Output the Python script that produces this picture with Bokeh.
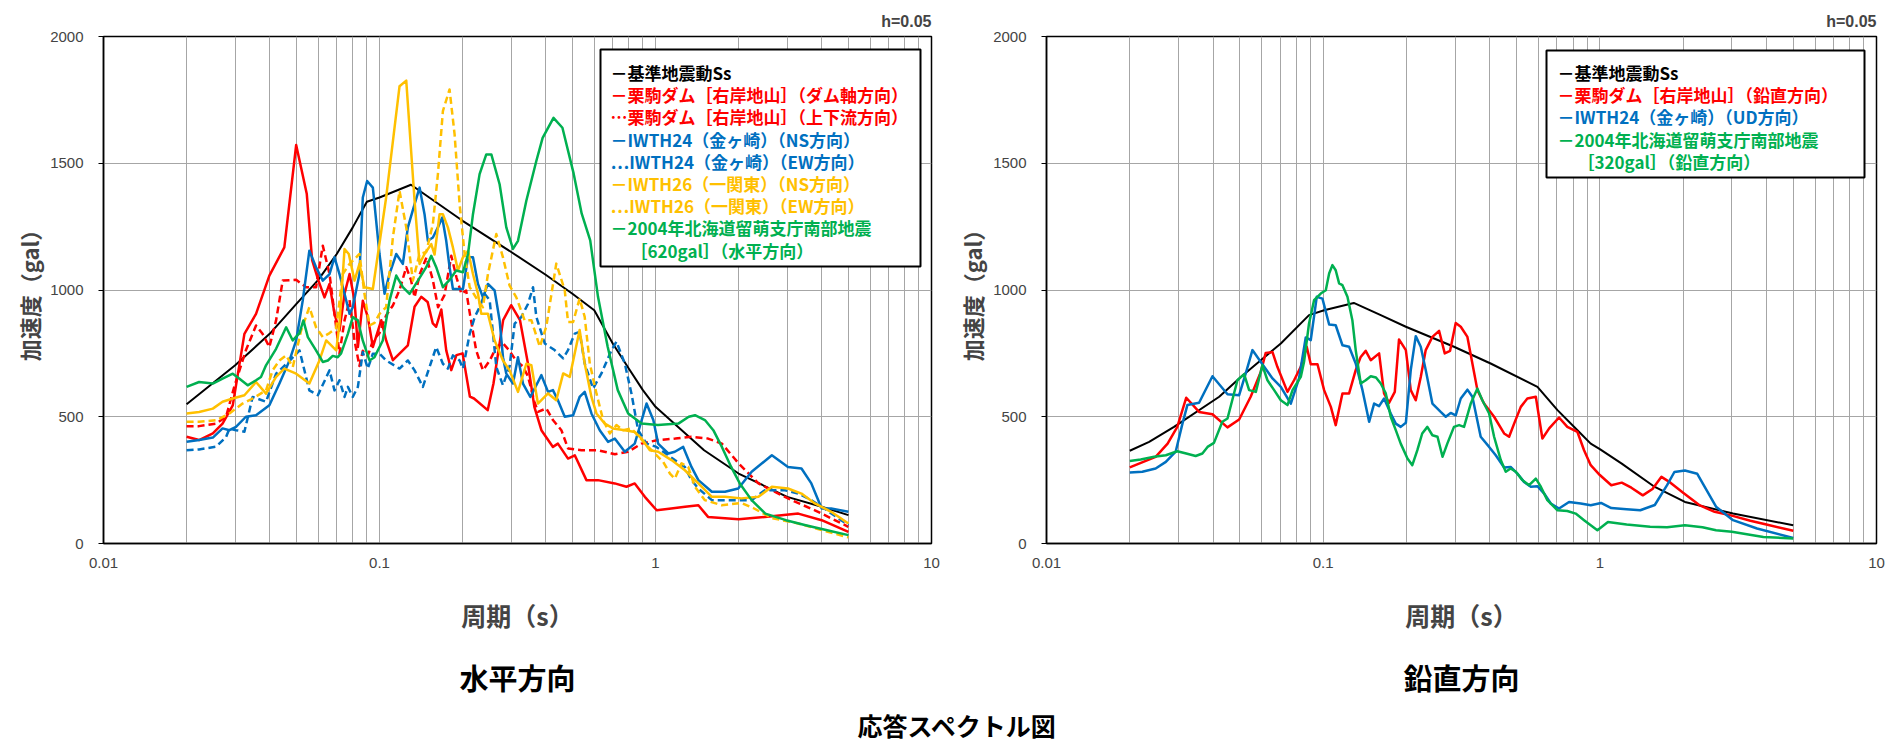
from bokeh.plotting import figure
from bokeh.models import Range1d, FixedTicker, CustomJSTickFormatter, Label, BoxAnnotation
from bokeh.layouts import column, row
from bokeh.embed import file_html
from bokeh.resources import INLINE

JP = "Noto Sans CJK JP"
NUM = "Liberation Sans"
BLACK = "#000000"
RED = "#FF0000"
BLUE = "#0070C0"
YELLOW = "#FFC000"
GREEN = "#00B050"
GRID = "#A6A6A6"

x_major_ticks = [0.01, 0.1, 1, 10]
x_minor_ticks = [0.02, 0.03, 0.04, 0.05, 0.06, 0.07, 0.08, 0.09,
                 0.2, 0.3, 0.4, 0.5, 0.6, 0.7, 0.8, 0.9,
                 2, 3, 4, 5, 6, 7, 8, 9]
y_ticks = [0, 500, 1000, 1500, 2000]

# ---------------- horizontal (水平方向) : (period s, acceleration gal)
h_ss = [(0.02, 549), (0.03, 703), (0.04, 827), (0.05, 945), (0.06, 1040), (0.07, 1142),
        (0.08, 1247), (0.09, 1348), (0.1, 1365), (0.13, 1415), (0.2, 1273), (0.3, 1150),
        (0.4, 1060), (0.5, 985), (0.6, 920), (0.7, 789), (0.8, 690), (0.9, 605), (1.0, 539),
        (1.5, 368), (2.0, 276), (3.0, 184), (4.0, 145), (5.0, 112)]

h_red_dam = [(0.020, 421), (0.0222, 408), (0.0249, 434), (0.0270, 473), (0.0294, 545), (0.0324, 827),
             (0.0357, 906), (0.0399, 1057), (0.0452, 1168), (0.0499, 1572), (0.0545, 1380), (0.0570, 1118),
             (0.0600, 1039), (0.0632, 971), (0.0659, 1024), (0.0687, 906), (0.0716, 840), (0.0747, 985),
             (0.0779, 1063), (0.0812, 958), (0.0835, 775), (0.0870, 958), (0.0907, 893), (0.0946, 775),
             (0.1015, 881), (0.1057, 801), (0.1118, 723), (0.1267, 782), (0.134, 934), (0.1416, 973),
             (0.1494, 953), (0.156, 868), (0.1604, 855), (0.1675, 923), (0.1745, 762), (0.182, 684),
             (0.190, 743), (0.200, 750), (0.2126, 579), (0.220, 572), (0.2466, 526), (0.2588, 631),
             (0.2806, 881), (0.300, 940), (0.3229, 881), (0.345, 710), (0.364, 539), (0.386, 447),
             (0.425, 381), (0.443, 394), (0.482, 335), (0.510, 348), (0.562, 250), (0.619, 250),
             (0.712, 237), (0.785, 224), (0.841, 237), (0.915, 184), (1.01, 131), (1.14, 138),
             (1.28, 145), (1.43, 151), (1.55, 105), (2.0, 96), (2.49, 105), (3.29, 118), (4.0, 92), (5.0, 46)]

h_red_ud = [(0.020, 463), (0.0222, 463), (0.0256, 473), (0.0278, 500), (0.0298, 620), (0.0328, 762),
            (0.0357, 860), (0.0377, 827), (0.0399, 775), (0.0422, 880), (0.0446, 1037), (0.0499, 1040),
            (0.0542, 1011), (0.0589, 1011), (0.0623, 1175), (0.0659, 1063), (0.0687, 906), (0.0716, 749),
            (0.0747, 880), (0.0779, 960), (0.0812, 800), (0.0846, 700), (0.0870, 760), (0.0907, 740),
            (0.0946, 800), (0.1000, 830), (0.1057, 900), (0.1118, 939), (0.1182, 1000), (0.125, 1090),
            (0.130, 1040), (0.134, 971), (0.140, 1063), (0.148, 1129), (0.156, 1040), (0.163, 932),
            (0.172, 980), (0.182, 1135), (0.190, 1050), (0.198, 985), (0.206, 998), (0.213, 900),
            (0.224, 762), (0.237, 683), (0.251, 722), (0.265, 775), (0.280, 790), (0.296, 760),
            (0.313, 720), (0.330, 700), (0.345, 660), (0.364, 560), (0.375, 519), (0.402, 533),
            (0.425, 487), (0.456, 447), (0.482, 375), (0.539, 368), (0.619, 368), (0.712, 352),
            (0.796, 362), (0.890, 394), (1.02, 408), (1.18, 414), (1.35, 421), (1.55, 414), (1.74, 394),
            (2.0, 316), (2.36, 237), (2.64, 210), (3.11, 171), (3.78, 131), (5.0, 66)]

h_iwth24_ns = [(0.020, 401), (0.0222, 408), (0.0249, 418), (0.0270, 454), (0.0286, 447), (0.0302, 460),
               (0.0328, 500), (0.0357, 506), (0.0399, 545), (0.0434, 631), (0.0472, 722), (0.0499, 801),
               (0.0527, 958), (0.0557, 1155), (0.0589, 1090), (0.0623, 1037), (0.0659, 1063), (0.0687, 1129),
               (0.0716, 1063), (0.0747, 985), (0.0779, 906), (0.0800, 932), (0.0846, 1063), (0.0870, 1365),
               (0.0902, 1430), (0.0946, 1404), (0.1000, 1142), (0.1043, 985), (0.1087, 1063), (0.115, 1142),
               (0.1215, 1103), (0.1267, 1247), (0.134, 1339), (0.1397, 1404), (0.1456, 1299), (0.1497, 1194),
               (0.1561, 1207), (0.1628, 1247), (0.1688, 1286), (0.1745, 1194), (0.1794, 1090), (0.1845, 1004),
               (0.2006, 1004), (0.2093, 1129), (0.2181, 1129), (0.2274, 1024), (0.237, 971), (0.2471, 1024),
               (0.2613, 998), (0.2724, 880), (0.2801, 735), (0.288, 670), (0.3045, 631), (0.3175, 735),
               (0.331, 631), (0.352, 578), (0.386, 664), (0.408, 598), (0.425, 605), (0.443, 565),
               (0.469, 500), (0.503, 506), (0.531, 578), (0.554, 598), (0.586, 513), (0.628, 447),
               (0.673, 401), (0.712, 414), (0.774, 362), (0.841, 394), (0.928, 552), (0.982, 487),
               (1.022, 394), (1.113, 355), (1.175, 362), (1.26, 381), (1.35, 302), (1.43, 250), (1.60, 204),
               (1.785, 204), (1.995, 217), (2.23, 283), (2.64, 348), (3.02, 302), (3.38, 296), (3.67, 237),
               (4.0, 138), (4.33, 138), (5.0, 125)]

h_iwth24_ew = [(0.020, 368), (0.0222, 371), (0.0256, 382), (0.0278, 420), (0.0286, 454), (0.0302, 447),
               (0.0324, 441), (0.0347, 578), (0.0388, 559), (0.0422, 670), (0.0472, 720), (0.0513, 762),
               (0.0557, 604), (0.0598, 585), (0.0659, 683), (0.0687, 604), (0.0716, 644), (0.0747, 578),
               (0.0768, 618), (0.0800, 578), (0.0835, 618), (0.0870, 755), (0.0907, 690), (0.0946, 749),
               (0.1000, 749), (0.1057, 722), (0.1182, 690), (0.1267, 722), (0.134, 683), (0.1436, 618),
               (0.1518, 696), (0.1605, 775), (0.1697, 709), (0.1769, 690), (0.1845, 742), (0.1951, 722),
               (0.2006, 690), (0.2122, 827), (0.2212, 893), (0.2305, 932), (0.2404, 985), (0.2507, 960),
               (0.265, 696), (0.2801, 624), (0.2961, 700), (0.3088, 867), (0.3264, 893), (0.3451, 945),
               (0.360, 1011), (0.370, 894), (0.397, 789), (0.431, 763), (0.463, 730), (0.482, 763),
               (0.510, 828), (0.531, 835), (0.554, 710), (0.594, 611), (0.637, 671), (0.693, 763),
               (0.722, 796), (0.774, 710), (0.818, 592), (0.865, 447), (0.928, 394), (1.008, 381),
               (1.175, 329), (1.278, 302), (1.35, 250), (1.43, 217), (1.60, 171), (1.887, 171), (2.23, 171),
               (2.49, 210), (2.946, 210), (3.29, 197), (3.67, 171), (4.0, 145), (5.0, 72)]

h_iwth26_ns = [(0.020, 513), (0.0222, 519), (0.0249, 532), (0.0270, 559), (0.0294, 572), (0.0324, 585),
               (0.0357, 637), (0.0388, 591), (0.0422, 657), (0.0452, 690), (0.0499, 670), (0.0557, 631),
               (0.0606, 722), (0.0641, 801), (0.0697, 762), (0.0716, 867), (0.0747, 1162), (0.0774, 1142),
               (0.0812, 1037), (0.0846, 1103), (0.0882, 1011), (0.0946, 1004), (0.1057, 1365), (0.1182, 1804),
               (0.125, 1826), (0.134, 1352), (0.1397, 1103), (0.1456, 1142), (0.154, 1181), (0.1583, 1140),
               (0.1651, 1299), (0.1697, 1299), (0.1769, 1247), (0.1845, 1168), (0.1924, 1077), (0.2006, 1129),
               (0.2093, 1155), (0.2181, 1063), (0.2274, 985), (0.2337, 906), (0.2471, 906), (0.2613, 801),
               (0.2801, 722), (0.2961, 683), (0.3175, 598), (0.3404, 709), (0.355, 703), (0.375, 552),
               (0.408, 592), (0.437, 565), (0.463, 671), (0.489, 657), (0.531, 842), (0.554, 710),
               (0.586, 578), (0.611, 513), (0.655, 473), (0.702, 454), (0.774, 447), (0.841, 440),
               (0.890, 414), (0.954, 368), (1.022, 362), (1.143, 329), (1.278, 289), (1.43, 237), (1.60, 184),
               (1.785, 184), (2.05, 178), (2.36, 184), (2.64, 224), (3.02, 217), (3.38, 197), (3.78, 158),
               (4.33, 125), (5.0, 79)]

h_iwth26_ew = [(0.020, 480), (0.0222, 480), (0.0256, 486), (0.0286, 513), (0.0319, 552), (0.0347, 572),
               (0.0388, 604), (0.0410, 683), (0.0434, 722), (0.0459, 742), (0.0485, 696), (0.0520, 840),
               (0.0557, 932), (0.0589, 853), (0.0623, 814), (0.0659, 830), (0.0697, 850), (0.0736, 1063),
               (0.0779, 1103), (0.0846, 1142), (0.0882, 985), (0.0920, 860), (0.0959, 870), (0.1000, 906),
               (0.1057, 932), (0.1118, 1207), (0.1182, 1391), (0.125, 1247), (0.1321, 1037), (0.1397, 1142),
               (0.1477, 1150), (0.1561, 1260), (0.1628, 1457), (0.1697, 1706), (0.1794, 1791), (0.1871, 1614),
               (0.1951, 1339), (0.2034, 1142), (0.2122, 1011), (0.2274, 958), (0.237, 932), (0.2471, 1063),
               (0.265, 1221), (0.2801, 1129), (0.2961, 1017), (0.3131, 971), (0.3357, 880), (0.355, 881),
               (0.381, 776), (0.402, 855), (0.437, 1104), (0.469, 999), (0.482, 874), (0.503, 874),
               (0.531, 966), (0.554, 894), (0.578, 710), (0.611, 592), (0.646, 487), (0.683, 434),
               (0.722, 467), (0.764, 447), (0.818, 454), (0.928, 388), (0.994, 355), (1.066, 322),
               (1.128, 276), (1.175, 256), (1.243, 316), (1.314, 302), (1.389, 224), (1.51, 171), (1.737, 151),
               (2.05, 160), (2.26, 140), (2.64, 100), (3.29, 79), (4.0, 53), (5.0, 24)]

h_rumoi = [(0.020, 618), (0.0222, 637), (0.0249, 631), (0.0270, 650), (0.0294, 670), (0.0311, 650),
           (0.0333, 624), (0.0357, 644), (0.0372, 657), (0.0388, 703), (0.0422, 768), (0.0459, 853),
           (0.0485, 801), (0.0513, 830), (0.0530, 880), (0.0550, 814), (0.0589, 762), (0.0623, 716),
           (0.0650, 722), (0.0677, 740), (0.0706, 735), (0.0726, 750), (0.0768, 827), (0.0800, 893),
           (0.0835, 880), (0.0870, 800), (0.0920, 722), (0.0959, 735), (0.1028, 801), (0.1087, 958),
           (0.115, 1057), (0.1215, 1011), (0.1285, 985), (0.1378, 1037), (0.1477, 1090), (0.1540, 1135),
           (0.1605, 1090), (0.1697, 1011), (0.1794, 1040), (0.1897, 1077), (0.2006, 1070), (0.2093, 1142),
           (0.2181, 1299), (0.2305, 1457), (0.2437, 1535), (0.2542, 1535), (0.2724, 1417), (0.288, 1247),
           (0.3045, 1162), (0.3175, 1194), (0.3404, 1352), (0.370, 1509), (0.390, 1600), (0.427, 1679),
           (0.460, 1640), (0.505, 1460), (0.540, 1302), (0.580, 1196), (0.619, 973), (0.671, 776),
           (0.730, 605), (0.796, 513), (0.890, 473), (1.02, 467), (1.21, 473), (1.32, 500), (1.39, 506),
           (1.51, 487), (1.62, 447), (1.74, 381), (1.88, 302), (2.02, 237), (2.23, 171), (2.5, 118),
           (2.97, 92), (3.5, 72), (4.15, 53), (5.0, 33)]

# ---------------- vertical (鉛直方向)
v_ss = [(0.02, 366), (0.0235, 401), (0.0289, 460), (0.0421, 579), (0.0504, 657), (0.0595, 723),
        (0.0703, 789), (0.0889, 901), (0.1008, 920), (0.129, 949), (0.1615, 901), (0.199, 855),
        (0.297, 776), (0.403, 710), (0.595, 618), (0.703, 526), (0.83, 447), (0.927, 394),
        (1.0, 372), (1.2, 315), (1.58, 223), (2.03, 164), (3.03, 118), (5.0, 72)]

v_red_dam = [(0.0200, 300), (0.0248, 342), (0.0274, 394), (0.0297, 460), (0.0320, 575), (0.0356, 519),
             (0.0398, 510), (0.0451, 458), (0.0497, 489), (0.0547, 579), (0.0595, 677), (0.0620, 752),
             (0.0656, 755), (0.0683, 697), (0.0743, 598), (0.0785, 644), (0.0830, 697), (0.0872, 776),
             (0.0902, 707), (0.0954, 707), (0.1008, 605), (0.1066, 539), (0.1110, 467), (0.1174, 592),
             (0.1241, 592), (0.1311, 684), (0.1367, 736), (0.1425, 760), (0.1486, 723), (0.1593, 750),
             (0.166, 592), (0.173, 555), (0.1815, 598), (0.188, 805), (0.199, 763), (0.2073, 605),
             (0.2161, 565), (0.2253, 657), (0.2348, 763), (0.2482, 815), (0.2624, 839), (0.2751, 750),
             (0.2876, 760), (0.3014, 870), (0.3143, 855), (0.3322, 815), (0.3462, 710), (0.361, 605),
             (0.3815, 552), (0.4148, 500), (0.4508, 434), (0.470, 421), (0.490, 473), (0.518, 539),
             (0.547, 572), (0.587, 579), (0.620, 414), (0.656, 454), (0.712, 497), (0.763, 460),
             (0.83, 440), (0.877, 368), (0.927, 309), (1.0, 270), (1.1, 230), (1.2, 240), (1.3, 220),
             (1.43, 190), (1.55, 215), (1.67, 263), (1.8, 240), (2.0, 200), (2.3, 150), (2.6, 125),
             (3.0, 110), (3.5, 90), (4.0, 75), (5.0, 50)]

v_iwth24_ud = [(0.0200, 280), (0.0222, 283), (0.0248, 296), (0.0270, 322), (0.0293, 362), (0.0310, 473),
               (0.0323, 546), (0.0356, 555), (0.0398, 660), (0.0451, 589), (0.0497, 585), (0.0525, 671),
               (0.0555, 763), (0.0612, 697), (0.0656, 651), (0.0703, 618), (0.0764, 552), (0.0818, 651),
               (0.0865, 813), (0.0902, 802), (0.0948, 973), (0.0994, 966), (0.1051, 864), (0.1110, 861),
               (0.1174, 782), (0.1241, 776), (0.1311, 710), (0.1387, 605), (0.1466, 480), (0.1528, 552),
               (0.1593, 542), (0.166, 572), (0.1755, 513), (0.183, 473), (0.1907, 460), (0.199, 476),
               (0.2073, 684), (0.2161, 818), (0.2253, 776), (0.2348, 684), (0.2482, 552), (0.266, 519),
               (0.2774, 500), (0.289, 515), (0.3014, 505), (0.3143, 572), (0.3322, 607), (0.3462, 579),
               (0.371, 421), (0.398, 381), (0.4205, 348), (0.4508, 300), (0.476, 302), (0.5035, 276),
               (0.532, 243), (0.563, 224), (0.595, 226), (0.629, 197), (0.665, 158), (0.712, 138),
               (0.774, 164), (0.853, 158), (0.927, 151), (1.01, 160), (1.1, 140), (1.25, 135), (1.4, 131),
               (1.58, 152), (1.75, 230), (1.86, 282), (2.03, 288), (2.25, 275), (2.63, 145), (3.03, 92),
               (3.7, 59), (5.0, 22)]

v_rumoi = [(0.0200, 325), (0.0219, 331), (0.0245, 342), (0.0270, 348), (0.0297, 364), (0.0320, 355),
           (0.0346, 345), (0.0366, 355), (0.0382, 381), (0.0403, 397), (0.0432, 480), (0.0451, 493),
           (0.049, 644), (0.0518, 668), (0.054, 605), (0.0571, 598), (0.0603, 703), (0.0629, 644),
           (0.0665, 605), (0.0703, 565), (0.0743, 546), (0.0775, 605), (0.0830, 657), (0.0853, 717),
           (0.0889, 868), (0.0927, 960), (0.098, 986), (0.1022, 999), (0.1051, 1065), (0.108, 1098),
           (0.111, 1078), (0.1142, 1026), (0.1174, 1019), (0.1224, 973), (0.1275, 881), (0.1311, 763),
           (0.1367, 631), (0.1425, 644), (0.1486, 660), (0.1552, 655), (0.1615, 631), (0.1684, 592),
           (0.1755, 500), (0.183, 447), (0.1907, 394), (0.2017, 335), (0.210, 309), (0.219, 368),
           (0.228, 434), (0.238, 460), (0.2482, 427), (0.259, 421), (0.27, 342), (0.281, 394),
           (0.297, 460), (0.31, 467), (0.323, 460), (0.3415, 552), (0.361, 611), (0.376, 565),
           (0.398, 513), (0.4148, 421), (0.4385, 329), (0.457, 283), (0.476, 296), (0.497, 283),
           (0.525, 250), (0.555, 230), (0.587, 256), (0.612, 224), (0.646, 171), (0.703, 131),
           (0.763, 128), (0.818, 118), (0.877, 92), (0.927, 72), (0.98, 52), (1.07, 85), (1.25, 75),
           (1.52, 66), (1.75, 64), (2.03, 72), (2.35, 64), (2.63, 52), (3.0, 46), (3.9, 26), (5.0, 20)]

DASH = "7 4"

h_series = [(h_ss, BLACK, 2, "solid"), (h_red_dam, RED, 2.5, "solid"), (h_red_ud, RED, 2.5, DASH),
            (h_iwth24_ns, BLUE, 2.5, "solid"), (h_iwth24_ew, BLUE, 2.5, DASH),
            (h_iwth26_ns, YELLOW, 2.5, "solid"), (h_iwth26_ew, YELLOW, 2.5, DASH),
            (h_rumoi, GREEN, 2.5, "solid")]
v_series = [(v_ss, BLACK, 2, "solid"), (v_red_dam, RED, 2.5, "solid"),
            (v_iwth24_ud, BLUE, 2.5, "solid"), (v_rumoi, GREEN, 2.5, "solid")]

h_legend = [("－基準地震動Ss", BLACK, 0), ("－栗駒ダム［右岸地山］（ダム軸方向）", RED, 0),
            ("…栗駒ダム［右岸地山］（上下流方向）", RED, 0), ("－IWTH24（金ヶ崎）（NS方向）", BLUE, 0),
            ("…IWTH24（金ヶ崎）（EW方向）", BLUE, 0), ("－IWTH26（一関東）（NS方向）", YELLOW, 0),
            ("…IWTH26（一関東）（EW方向）", YELLOW, 0), ("－2004年北海道留萌支庁南部地震", GREEN, 0),
            ("［620gal］（水平方向）", GREEN, 20)]
v_legend = [("－基準地震動Ss", BLACK, 0), ("－栗駒ダム［右岸地山］（鉛直方向）", RED, 0),
            ("－IWTH24（金ヶ崎）（UD方向）", BLUE, 0), ("－2004年北海道留萌支庁南部地震", GREEN, 0),
            ("［320gal］（鉛直方向）", GREEN, 20)]

TOP_H = 650


def make_panel(series, legend, width, bl, br, box, text_x):
    p = figure(width=width, height=TOP_H, x_axis_type="log", x_range=Range1d(0.01, 10),
               y_range=Range1d(0, 2000), toolbar_location=None, output_backend="svg",
               min_border_left=bl, min_border_right=br, min_border_top=36,
               min_border_bottom=TOP_H - 36 - 507, title="h=0.05")
    p.title.align = "right"
    p.title.text_font = NUM
    p.title.text_font_size = "16px"
    p.title.text_font_style = "bold"
    p.title.standoff = 13
    p.background_fill_color = "white"
    p.border_fill_color = "white"
    p.outline_line_color = "black"
    p.outline_line_width = 1.5

    p.xaxis.ticker = FixedTicker(ticks=x_major_ticks, minor_ticks=x_minor_ticks)
    p.xaxis.formatter = CustomJSTickFormatter(code="return tick.toString();")
    p.xaxis.major_tick_in = 0
    p.xaxis.major_tick_out = 0
    p.xaxis.minor_tick_in = 0
    p.xaxis.minor_tick_out = 0
    p.xaxis.axis_line_color = "black"
    p.xaxis.axis_line_width = 1.5
    p.xaxis.major_label_text_font = NUM
    p.xaxis.major_label_text_font_size = "15px"
    p.xaxis.major_label_standoff = 14
    p.xaxis.axis_label = "周期（s）"
    p.xaxis.axis_label_text_font = JP
    p.xaxis.axis_label_text_font_size = "25px"
    p.xaxis.axis_label_text_font_style = "bold"
    p.xaxis.axis_label_standoff = 26

    p.yaxis.ticker = FixedTicker(ticks=y_ticks)
    p.yaxis.major_tick_in = 0
    p.yaxis.major_tick_out = 5
    p.yaxis.minor_tick_in = 0
    p.yaxis.minor_tick_out = 0
    p.yaxis.axis_line_color = "black"
    p.yaxis.axis_line_width = 1.5
    p.yaxis.major_label_text_font = NUM
    p.yaxis.major_label_text_font_size = "15px"
    p.yaxis.major_label_standoff = 15
    p.yaxis.axis_label = "加速度（gal）"
    p.yaxis.axis_label_text_font = JP
    p.yaxis.axis_label_text_font_size = "22px"
    p.yaxis.axis_label_text_font_style = "bold"
    p.yaxis.axis_label_standoff = 2

    p.xgrid.ticker = FixedTicker(ticks=x_major_ticks, minor_ticks=x_minor_ticks)
    p.xgrid.grid_line_color = GRID
    p.xgrid.minor_grid_line_color = GRID
    p.ygrid.ticker = FixedTicker(ticks=y_ticks)
    p.ygrid.grid_line_color = GRID

    for data, color, lw, dash in series:
        xs = [d[0] for d in data]
        ys = [d[1] for d in data]
        p.line(xs, ys, line_color=color, line_width=lw, line_dash=dash, line_join="round")

    bx_l, bx_r, bx_b, bx_t = box
    p.add_layout(BoxAnnotation(left=bx_l, right=bx_r, bottom=bx_b, top=bx_t,
                               left_units="screen", right_units="screen",
                               bottom_units="screen", top_units="screen",
                               fill_color="white", fill_alpha=1.0,
                               line_color="black", line_width=2, line_alpha=1.0))
    for i, (txt, color, indent) in enumerate(legend):
        p.add_layout(Label(x=text_x + indent, y=471 - 22.2 * i, x_units="screen", y_units="screen",
                           text=txt, text_color=color, text_font=JP, text_font_size="17px",
                           text_font_style="bold", text_align="left", text_baseline="middle"))
    return p


p1 = make_panel(h_series, h_legend, 941, 103, 10, (497, 817, 277, 494), 507)
p2 = make_panel(v_series, v_legend, 951, 105, 16, (500, 818, 366, 493), 511)

BOT_H = 745 - TOP_H
p3 = figure(width=1892, height=BOT_H, x_range=Range1d(0, 1892), y_range=Range1d(0, BOT_H),
            toolbar_location=None, output_backend="svg", min_border=0,
            x_axis_location=None, y_axis_location=None, title=None)
p3.grid.visible = False
p3.outline_line_color = None
for txt, cx, cy, fs in [("水平方向", 517, 69, "29px"), ("鉛直方向", 1461, 69, "29px"),
                        ("応答スペクトル図", 957, 21, "25px")]:
    p3.add_layout(Label(x=cx, y=cy, text=txt, text_font=JP, text_font_size=fs,
                        text_font_style="bold", text_align="center", text_baseline="middle",
                        text_color="black"))

layout = column(row(p1, p2), p3)
open("out.html", "w").write(file_html(layout, INLINE))
